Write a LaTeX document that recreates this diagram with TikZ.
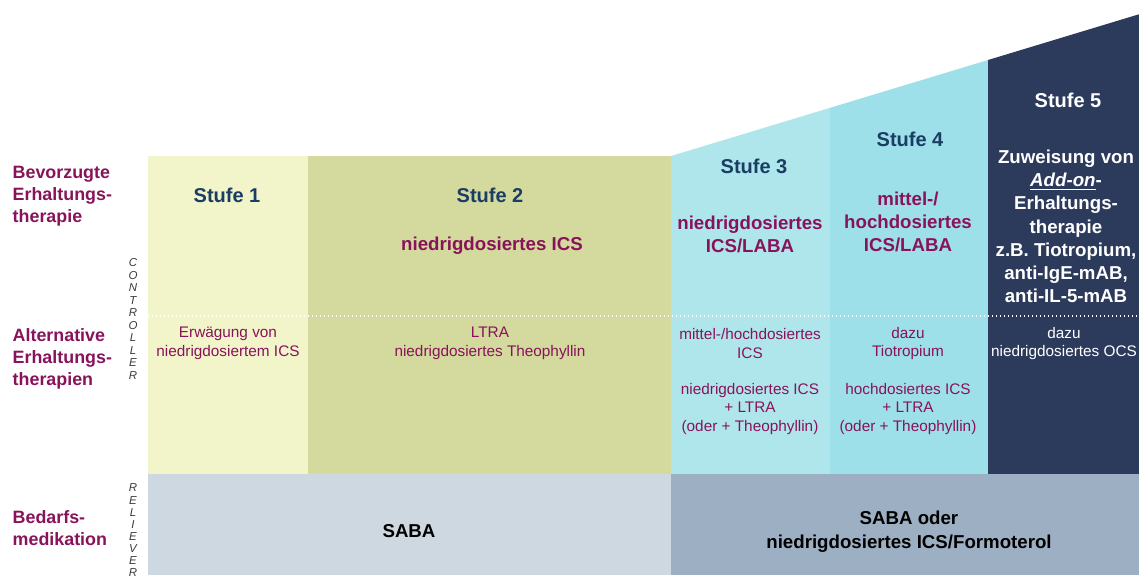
\documentclass[tikz,border=0pt]{standalone}
\usepackage{fontspec}
\setmainfont{Liberation Sans}
\usepackage{tikz}

% column and row colours
\definecolor{stepone}{HTML}{F1F5C9}
\definecolor{steptwo}{HTML}{D4D99D}
\definecolor{stepthree}{HTML}{AEE6EC}
\definecolor{stepfour}{HTML}{9DE0E9}
\definecolor{stepfive}{HTML}{2C3B5C}
\definecolor{relone}{HTML}{CDD8E0}
\definecolor{reltwo}{HTML}{9DB0C3}
\definecolor{stufeblue}{HTML}{1A3D63}
\definecolor{plum}{HTML}{88135A}
\definecolor{lettergray}{HTML}{3A3A3A}

\begin{document}
\begin{tikzpicture}[x=0.75pt,y=-0.75pt,
    stufe/.style={font=\fontsize{15}{18}\selectfont\bfseries, text=stufeblue},
    pref/.style={font=\fontsize{14}{17.4}\selectfont\bfseries, text=plum, align=center},
    alt/.style={font=\fontsize{11.5}{14.2}\selectfont, text=plum, align=center},
    rowlabel/.style={font=\fontsize{13.4}{16.3}\selectfont\bfseries, text=plum, align=left, anchor=west},
    vletter/.style={font=\fontsize{8.6}{9}\selectfont\itshape, text=lettergray, inner sep=0pt},
    relief/.style={font=\fontsize{14}{18}\selectfont\bfseries, align=center}]

    \useasboundingbox (0,0) rectangle (1139,575);

    % Step columns, rising to the right
    \fill[stepone] (148,156) rectangle (308,474);
    \fill[steptwo] (308,156) rectangle (671,474);
    \fill[stepthree] (671,474) -- (671,156) -- (830,107.85) -- (830,474) -- cycle;
    \fill[stepfour] (830,474) -- (830,107.85) -- (988,60) -- (988,474) -- cycle;
    \fill[stepfive] (988,474) -- (988,60) -- (1139,14.27) -- (1139,474) -- cycle;

    % Reliever row
    \fill[relone] (148,474) rectangle (671,575);
    \fill[reltwo] (671,474) rectangle (1139,575);

    % Dotted divider between preferred and alternative
    \draw[white, line width=0.9pt, dash pattern=on 0.9pt off 2.1pt] (148,316) -- (1139,316);

    % Row labels
    \node[rowlabel] (bevorzugt) at (8,196) {Bevorzugte\\Erhaltungs-\\therapie};
    \node[rowlabel] (alternativ) at (8,359) {Alternative\\Erhaltungs-\\therapien};
    \node[rowlabel] (bedarf) at (8,528) {Bedarfs-\\medikation};

    % Vertical letters
    \foreach \ch [count=\i] in {C,O,N,T,R,O,L,L,E,R}
        \node[vletter] (ctl\i) at (133,{263+12.45*(\i-1)}) {\ch};
    \foreach \ch [count=\i] in {R,E,L,I,E,V,E,R}
        \node[vletter] (rlv\i) at (133,{488+12.1*(\i-1)}) {\ch};

    % Step titles
    \node[stufe] (s1) at (227,195) {Stufe 1};
    \node[stufe] (s2) at (490,195) {Stufe 2};
    \node[stufe] (s3) at (754,166) {Stufe 3};
    \node[stufe] (s4) at (910,139) {Stufe 4};
    \node[stufe, text=white] (s5) at (1068,100) {Stufe 5};

    % Preferred controller
    \node[pref] (p2) at (492,246) {niedrigdosiertes ICS};
    \node[pref] (p3) at (750,234.5) {niedrigdosiertes\\ICS/LABA};
    \node[pref] (p4) at (908,222) {mittel-/\\hochdosiertes\\ICS/LABA};
    \node[pref, text=white] (p5) at (1066,226.5)
        {Zuweisung von\\\underline{\textit{Add-on}}-\\Erhaltungs-\\therapie\\z.B. Tiotropium,\\anti-IgE-mAB,\\anti-IL-5-mAB};

    % Alternative controller
    \node[alt] (a1) at (228,343.5) {Erwägung von\\niedrigdosiertem ICS};
    \node[alt] (a2) at (490,343.5) {LTRA\\niedrigdosiertes Theophyllin};
    \node[alt] (a3) at (750,343.5) {mittel-/hochdosiertes\\ICS};
    \node[alt] (a3b) at (750,409) {niedrigdosiertes ICS\\+ LTRA\\(oder + Theophyllin)};
    \node[alt] (a4) at (908,343.5) {dazu\\Tiotropium};
    \node[alt] (a4b) at (908,409) {hochdosiertes ICS\\+ LTRA\\(oder + Theophyllin)};
    \node[alt, text=white] (a5) at (1064,343.5) {dazu\\niedrigdosiertes OCS};

    % Reliever
    \node[relief] (r1) at (409,531) {SABA};
    \node[relief] (r2) at (909,532) {SABA oder\\niedrigdosiertes ICS/Formoterol};
\end{tikzpicture}
\end{document}
